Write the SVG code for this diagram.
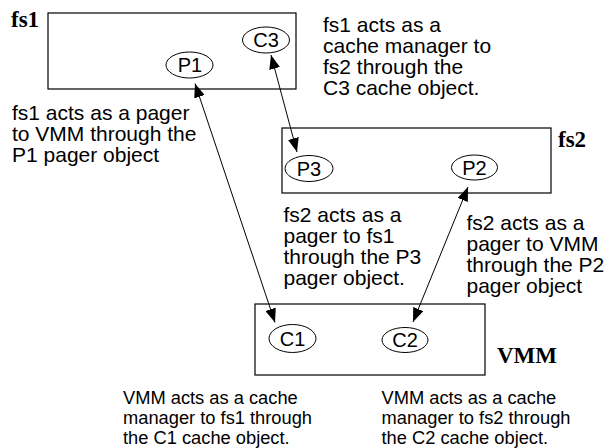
<svg xmlns="http://www.w3.org/2000/svg" width="614" height="448" viewBox="0 0 614 448">
<defs>
<marker id="ah" viewBox="0 0 14 11" refX="14" refY="5.5" markerWidth="14" markerHeight="11" markerUnits="userSpaceOnUse" orient="auto-start-reverse">
<path d="M0,0 L14,5.5 L0,11 z" fill="#000"/>
</marker>
</defs>
<style>
.box{fill:#fff;stroke:#000;stroke-width:1.2}
.obj{fill:#fff;stroke:#000;stroke-width:1}
.otxt{font-family:"Liberation Sans",Arial,sans-serif;font-size:20px;text-anchor:middle;fill:#000}
.ttl{font-family:"Liberation Serif","Times New Roman",serif;font-size:23px;font-weight:bold;fill:#000}
.note{font-family:"Liberation Sans",Arial,sans-serif;font-size:21px;fill:#000}
.note2{font-family:"Liberation Sans",Arial,sans-serif;font-size:18.3px;fill:#000}
.conn{stroke:#000;stroke-width:1;fill:none;marker-start:url(#ah);marker-end:url(#ah)}
</style>
<rect width="614" height="448" fill="#fff"/>
<g id="fs1">
<rect class="box" x="48" y="13" width="248" height="76"/>
<text class="ttl" x="11" y="27">fs1</text>
</g>
<g id="fs2">
<rect class="box" x="282" y="128" width="269" height="65"/>
<text class="ttl" x="558" y="147">fs2</text>
</g>
<g id="VMM">
<rect class="box" x="255" y="304" width="230" height="71"/>
<text class="ttl" x="497" y="363">VMM</text>
</g>
<g id="P1">
<ellipse class="obj" cx="189.5" cy="65" rx="23.5" ry="13"/>
<text class="otxt" x="190" y="72">P1</text>
</g>
<g id="C3">
<ellipse class="obj" cx="266" cy="40" rx="23.5" ry="13"/>
<text class="otxt" x="266" y="47">C3</text>
</g>
<g id="P3">
<ellipse class="obj" cx="309" cy="168.5" rx="24" ry="13"/>
<text class="otxt" x="309" y="175.5">P3</text>
</g>
<g id="P2">
<ellipse class="obj" cx="474.5" cy="167.5" rx="23" ry="12.5"/>
<text class="otxt" x="474.5" y="174.5">P2</text>
</g>
<g id="C1">
<ellipse class="obj" cx="292.5" cy="338.5" rx="23.5" ry="14"/>
<text class="otxt" x="292.5" y="345.5">C1</text>
</g>
<g id="C2">
<ellipse class="obj" cx="405" cy="340" rx="23" ry="12.5"/>
<text class="otxt" x="405" y="347">C2</text>
</g>
<g id="connectors">
<line class="conn" x1="195" y1="83.5" x2="275" y2="322.5"/>
<line class="conn" x1="271" y1="55" x2="297" y2="152"/>
<line class="conn" x1="468" y1="187" x2="413" y2="322"/>
</g>
<g id="notes">
<text class="note" x="12" y="119.5">fs1 acts as a pager<tspan x="12" y="140.5">to VMM through the</tspan><tspan x="12" y="161.5">P1 pager object</tspan></text>
<text class="note" x="323" y="31.7">fs1 acts as a<tspan x="323" y="52.7">cache manager to</tspan><tspan x="323" y="74">fs2 through the</tspan><tspan x="323" y="95">C3 cache object.</tspan></text>
<text class="note" x="283.5" y="221.5">fs2 acts as a<tspan x="283.5" y="242.5">pager to fs1</tspan><tspan x="283.5" y="263.5">through the P3</tspan><tspan x="283.5" y="284.5">pager object.</tspan></text>
<text class="note" x="466.5" y="229.5">fs2 acts as a<tspan x="466.5" y="250.5">pager to VMM</tspan><tspan x="466.5" y="271.5">through the P2</tspan><tspan x="466.5" y="292.5">pager object</tspan></text>
<text class="note2" x="123" y="403.5">VMM acts as a cache<tspan x="123" y="423.5">manager to fs1 through</tspan><tspan x="123" y="444">the C1 cache object.</tspan></text>
<text class="note2" x="381.5" y="403.5">VMM acts as a cache<tspan x="381.5" y="423.5">manager to fs2 through</tspan><tspan x="381.5" y="444">the C2 cache object.</tspan></text>
</g>
</svg>
